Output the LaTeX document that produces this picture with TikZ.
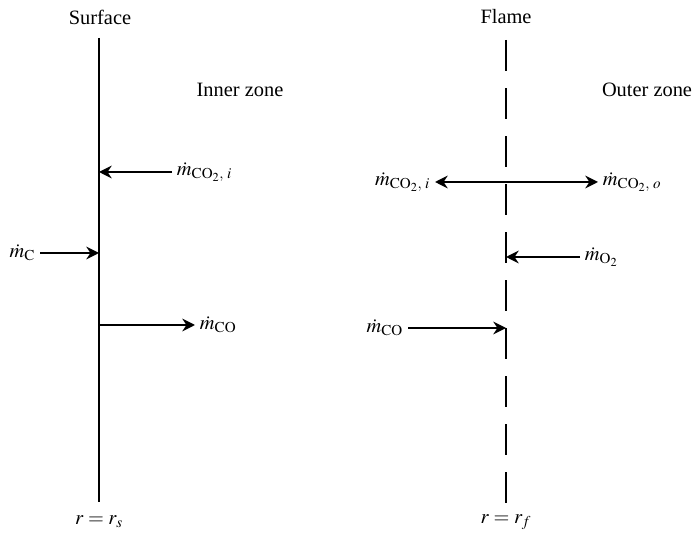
\documentclass[tikz,border=0pt]{standalone}
\usepackage{mathptmx}
\usepackage{fontspec}
\setmainfont{Liberation Serif}
\usetikzlibrary{arrows.meta, positioning}

\begin{document}
\begin{tikzpicture}[x=0.025cm, y=-0.025cm, font=\fontsize{14.5}{17}\selectfont,
    wall/.style={line width=1.4pt},
    flamewall/.style={line width=1.4pt, dash pattern=on 0.775cm off 0.425cm},
    flow/.style={line width=1.6pt, -{Stealth[length=9pt, width=9pt]}},
    flowboth/.style={line width=1.6pt, {Stealth[length=9pt, width=9pt]}-{Stealth[length=9pt, width=9pt]}}]

    \useasboundingbox (0,0) rectangle (695,536);

    % ---------- surface (inner zone) ----------
    \coordinate (stop) at (99,38);
    \coordinate (sbot) at (99,502);
    \draw[wall] (stop) -- (sbot);
    \node (surf) at (100,17) {Surface};
    \node (rs) at (99,522) {$r=r_s$};
    \node (inner) at (240,90) {Inner zone};

    % fluxes at the surface
    \node[anchor=west] (co2s) at (172,172) {$\dot{m}_{\mathrm{CO}_2,\;i}$};
    \draw[flow] (co2s.west) -- (co2s.west -| stop);
    \node[anchor=east] (mc) at (40,253) {$\dot{m}_{\mathrm{C}}$};
    \draw[flow] (mc.east) -- (mc.east -| stop);
    \node[anchor=west] (cos) at (195,325) {$\dot{m}_{\mathrm{CO}}$};
    \draw[flow] (cos.west -| stop) -- (cos.west);

    % ---------- flame (outer zone) ----------
    \coordinate (ftop) at (506,40);
    \coordinate (fbot) at (506,503);
    \draw[flamewall] (ftop) -- (fbot);
    \node (flame) at (506,17) {Flame};
    \node (rf) at (506,522) {$r=r_f$};
    \node (outer) at (647,90) {Outer zone};

    % fluxes at the flame
    \node[anchor=east] (co2i) at (435,182) {$\dot{m}_{\mathrm{CO}_2,\;i}$};
    \node[anchor=west] (co2o) at (598,182) {$\dot{m}_{\mathrm{CO}_2,\;o}$};
    \draw[flowboth] (co2i.east) -- (co2o.west);
    \node[anchor=west] (o2) at (580,257) {$\dot{m}_{\mathrm{O}_2}$};
    \draw[flow] (o2.west) -- (o2.west -| ftop);
    \node[anchor=east] (cof) at (408,328) {$\dot{m}_{\mathrm{CO}}$};
    \draw[flow] (cof.east) -- (cof.east -| ftop);

\end{tikzpicture}
\end{document}
